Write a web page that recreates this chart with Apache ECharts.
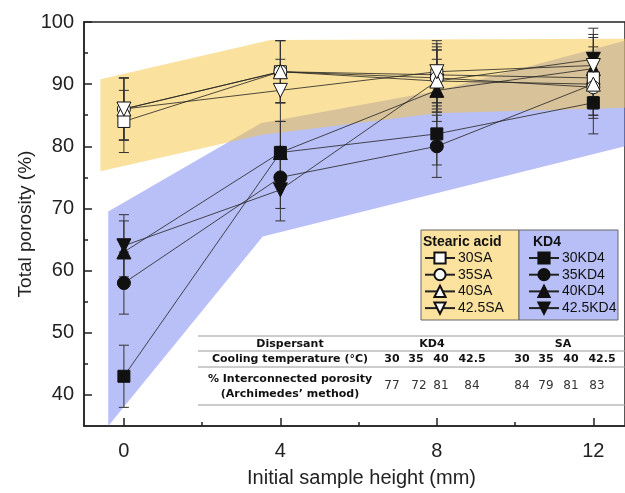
<!DOCTYPE html>
<html>
<head>
<meta charset="utf-8">
<script src="https://cdn.jsdelivr.net/npm/echarts@6/dist/echarts.min.js"></script>
<style>
  html, body { margin: 0; padding: 0; background: #fff; }
  #main { width: 625px; height: 493px; }
</style>
</head>
<body>
<div id="main"></div>
<script>
// sample heights (mm)
var heights = [0, 4, 8, 12];

// total porosity (%) - stearic acid
var sa30 = [84, 92, 91.5, 91];
var sa35 = [86, 92, 91, 89.5];
var sa40 = [86, 92, 90.5, 90];
var sa425 = [86, 89, 92, 93];
// total porosity (%) - KD4
var kd30 = [43, 79, 82, 87];
var kd35 = [58, 75, 80, 90];
var kd40 = [63, 79, 89, 92.5];
var kd425 = [64, 73, 90.5, 94];
// error (+/-)
var errSA = [5, 5, 5, 5];
var errKD4 = [5, 5, 5, 5];

// shaded bands
var saBandTop = [[-0.6, 90.8], [3.75, 97.1], [12.81, 97.3]];
var saBandBottom = [[-0.6, 76], [3.5, 81.8], [8, 85.3], [12.81, 86.2]];
var kdBandTop = [[-0.4, 69.5], [3.5, 83.7], [8, 88.9], [12.81, 97]];
var kdBandBottom = [[-0.4, 35], [3.55, 65.5], [12.81, 80]];

// ticks
var xTicks = [0, 4, 8, 12];
var xMinor = [2, 6, 10];
var yTicks = [40, 50, 60, 70, 80, 90, 100];
var yMinor = [45, 55, 65, 75, 85, 95];

// inset table
var tableTemps = ['30', '35', '40', '42.5'];
var kdInter = [77, 72, 81, 84];
var saInter = [84, 79, 81, 83];

var FONT = 'Liberation Sans, Arial, sans-serif';
var TFONT = 'DejaVu Sans, Verdana, sans-serif';
var AX = '#222';

var chart = echarts.init(document.getElementById('main'));

function pairs(ys) {
  return heights.map(function (x, i) { return [x, ys[i]]; });
}

function bandSeries(top, bottom, fill, z) {
  return {
    type: 'custom', silent: true, z: z,
    data: [[0, 50]],
    encode: { x: 0, y: 1 },
    renderItem: function (params, api) {
      var pts = top.concat(bottom.slice().reverse()).map(function (p) { return api.coord(p); });
      return { type: 'polygon', shape: { points: pts }, style: { fill: fill } };
    }
  };
}

function errSeries(ysList, errs) {
  var data = [];
  ysList.forEach(function (ys) {
    heights.forEach(function (x, i) {
      data.push([x, ys[i] - errs[i], ys[i] + errs[i]]);
    });
  });
  return {
    type: 'custom', silent: true, z: 3,
    data: data,
    encode: { x: 0, y: [1, 2] },
    renderItem: function (params, api) {
      var lo = api.coord([api.value(0), api.value(1)]);
      var hi = api.coord([api.value(0), api.value(2)]);
      var st = { stroke: '#333', lineWidth: 1 };
      return {
        type: 'group',
        children: [
          { type: 'line', shape: { x1: lo[0], y1: lo[1], x2: hi[0], y2: hi[1] }, style: st },
          { type: 'line', shape: { x1: lo[0] - 5, y1: lo[1], x2: lo[0] + 5, y2: lo[1] }, style: st },
          { type: 'line', shape: { x1: hi[0] - 5, y1: hi[1], x2: hi[0] + 5, y2: hi[1] }, style: st }
        ]
      };
    }
  };
}

function lineSeries(name, ys, symbol, size, fill, rotate, z) {
  return {
    name: name, type: 'line', z: z,
    data: pairs(ys),
    symbol: symbol, symbolSize: size, symbolRotate: rotate,
    showAllSymbol: true,
    lineStyle: { color: '#222', width: 0.8 },
    itemStyle: { color: fill, borderColor: '#111', borderWidth: 1 },
    emphasis: { disabled: true },
    animation: false
  };
}

var gText = [];
function txt(s, x, y, bold, size) {
  gText.push({
    type: 'text', z: 5,
    style: {
      text: s, x: x, y: y, align: 'center', verticalAlign: 'middle',
      font: (bold ? 'bold ' : '') + size + 'px ' + TFONT,
      fill: bold ? '#111' : '#333'
    }
  });
}
function hline(y, x1, x2) {
  gText.push({
    type: 'line', z: 5,
    shape: { x1: x1, y1: y, x2: x2, y2: y },
    style: { stroke: '#9a9a9a', lineWidth: 1.2 }
  });
}

// table
hline(336, 198, 625);
hline(351, 198, 625);
hline(367, 198, 625);
hline(405, 198, 625);
txt('Dispersant', 290, 344, true, 11);
txt('KD4', 432, 344, true, 11);
txt('SA', 563, 344, true, 11);
txt('Cooling temperature (°C)', 290, 359.5, true, 11);
var kdCols = [392, 416, 441, 472];
var saCols = [522, 546, 571, 602];
tableTemps.forEach(function (t, i) {
  txt(t, kdCols[i], 359.5, true, 11);
  txt(t, saCols[i], 359.5, true, 11);
  txt(String(kdInter[i]), kdCols[i] + (i === 1 ? 3 : 0), 386, false, 12);
  txt(String(saInter[i]), saCols[i] - (i === 3 ? 5 : 0), 386, false, 12);
});
txt('% Interconnected porosity', 290, 379, true, 11);
txt('(Archimedes\u2019 method)', 290, 394, true, 11);

// legend frame
gText.push(
  { type: 'rect', z: 10, shape: { x: 421, y: 230, width: 98, height: 90 }, style: { fill: '#fbe29e', stroke: '#666', lineWidth: 1 } },
  { type: 'rect', z: 10, shape: { x: 519, y: 230, width: 99, height: 90 }, style: { fill: '#b8bff6', stroke: '#666', lineWidth: 1 } },
  { type: 'text', z: 11, style: { text: 'Stearic acid', x: 423, y: 242, verticalAlign: 'middle', font: 'bold 14px ' + FONT, fill: '#111' } },
  { type: 'text', z: 11, style: { text: 'KD4', x: 533, y: 242, verticalAlign: 'middle', font: 'bold 14px ' + FONT, fill: '#111' } }
);

var legendCommon = {
  z: 20, orient: 'vertical', itemWidth: 30, itemHeight: 14, itemGap: 2.7,
  padding: 0, selectedMode: false,
  textStyle: { fontSize: 14, fontFamily: FONT, color: '#111', padding: [0, 0, 0, -2] }
};

chart.setOption({
  animation: false,
  backgroundColor: '#fff',
  grid: {
    left: 84, top: 22, right: -3, bottom: 65,
    show: true, borderColor: AX, borderWidth: 1.5
  },
  xAxis: [{
    type: 'value', min: -1.02, max: 12.81, position: 'bottom',
    axisLine: { onZero: false, lineStyle: { color: AX, width: 1.5 } },
    axisTick: { inside: true, length: 8, customValues: xTicks, lineStyle: { color: AX, width: 1.5 } },
    axisLabel: { customValues: xTicks, fontSize: 20, margin: 15, color: AX, fontFamily: FONT },
    splitLine: { show: false },
    name: 'Initial sample height (mm)', nameLocation: 'middle', nameGap: 42,
    nameTextStyle: { fontSize: 20, color: AX, fontFamily: FONT, padding: [0, 0, 0, 14] }
  }, {
    type: 'value', min: -1.02, max: 12.81, position: 'bottom',
    axisLine: { show: false, onZero: false },
    axisTick: { inside: true, length: 4, customValues: xMinor, lineStyle: { color: AX, width: 1.5 } },
    axisLabel: { show: false },
    splitLine: { show: false }
  }],
  yAxis: [{
    type: 'value', min: 35, max: 100, position: 'left',
    axisLine: { show: true, onZero: false, lineStyle: { color: AX, width: 1.5 } },
    axisTick: { show: true, inside: true, length: 8, customValues: yTicks, lineStyle: { color: AX, width: 1.5 } },
    axisLabel: { customValues: yTicks, fontSize: 20, margin: 10, color: AX, fontFamily: FONT },
    splitLine: { show: false },
    name: 'Total porosity (%)', nameLocation: 'middle', nameGap: 49, nameMoveOverlap: false,
    nameTextStyle: { fontSize: 19, color: AX, fontFamily: FONT }
  }, {
    type: 'value', min: 35, max: 100, position: 'left',
    axisLine: { show: false, onZero: false },
    axisTick: { show: true, inside: true, length: 4, customValues: yMinor, lineStyle: { color: AX, width: 1.5 } },
    axisLabel: { show: false },
    splitLine: { show: false }
  }],
  legend: [
    Object.assign({ left: 424, top: 251, data: ['30SA', '35SA', '40SA', '42.5SA'] }, legendCommon),
    Object.assign({ left: 528, top: 251, data: ['30KD4', '35KD4', '40KD4', '42.5KD4'] }, legendCommon)
  ],
  graphic: { elements: gText },
  series: [
    bandSeries(kdBandTop, kdBandBottom, 'rgba(115,130,240,0.5)', 1),
    bandSeries(saBandTop, saBandBottom, 'rgba(245,195,60,0.5)', 1),
    errSeries([kd30, kd35, kd40, kd425], errKD4),
    errSeries([sa30, sa35, sa40, sa425], errSA),
    lineSeries('30KD4', kd30, 'rect', 12, '#111', 0, 4),
    lineSeries('35KD4', kd35, 'circle', 13, '#111', 0, 4),
    lineSeries('40KD4', kd40, 'triangle', 14, '#111', 0, 4),
    lineSeries('42.5KD4', kd425, 'triangle', 14, '#111', 180, 4),
    lineSeries('30SA', sa30, 'rect', 12, '#fff', 0, 5),
    lineSeries('35SA', sa35, 'circle', 13, '#fff', 0, 5),
    lineSeries('40SA', sa40, 'triangle', 14, '#fff', 0, 5),
    lineSeries('42.5SA', sa425, 'triangle', 14, '#fff', 180, 5)
  ]
});
</script>
</body>
</html>
